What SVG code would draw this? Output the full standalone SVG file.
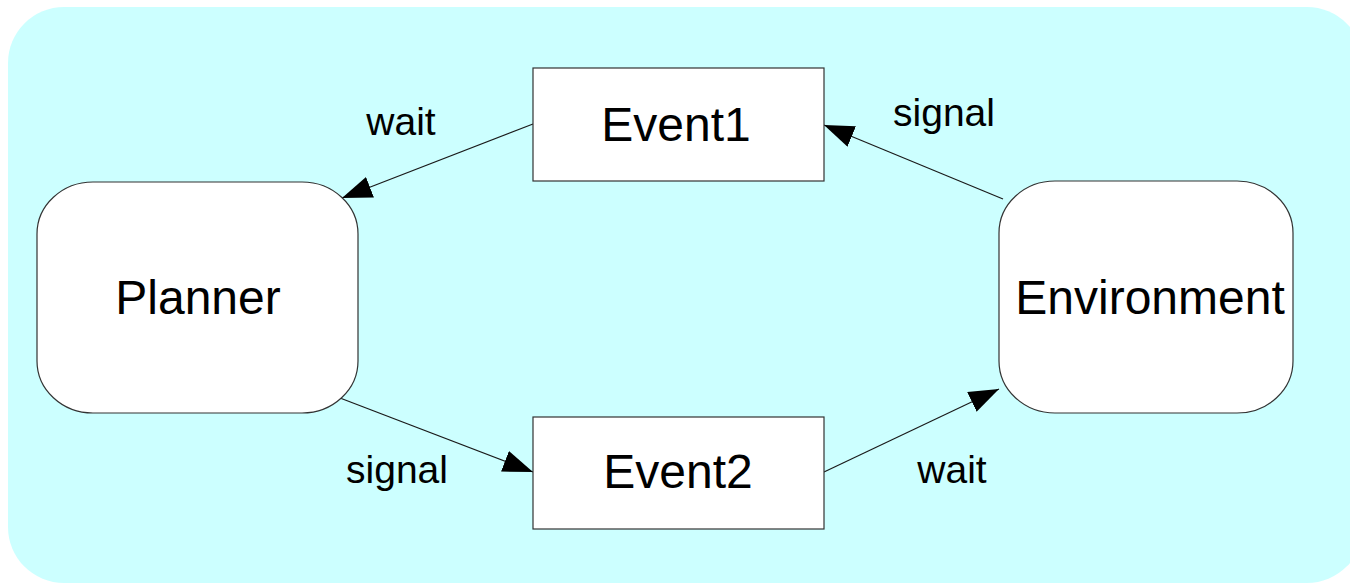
<svg xmlns="http://www.w3.org/2000/svg" width="1350" height="585" viewBox="0 0 1350 585">
<style>
.bg{fill:#ccffff;stroke:none}
.node{fill:#ffffff;stroke:#333333;stroke-width:1.2}
.ntext{font-family:"Liberation Sans",Arial,sans-serif;font-size:48px;fill:#000;text-anchor:middle}
.ltext{font-family:"Liberation Sans",Arial,sans-serif;font-size:39px;fill:#000;text-anchor:middle}
.edge{stroke:#1a1a1a;stroke-width:1.2;fill:none;marker-end:url(#arr)}
</style>
<defs>
<marker id="arr" markerUnits="userSpaceOnUse" markerWidth="32" markerHeight="24" refX="30" refY="11" orient="auto">
<path d="M0,0 L30,11 L0,22 Z" fill="#000"/>
</marker>
</defs>
<rect class="bg" x="8" y="7" width="1355" height="576" rx="56" ry="56"/>
<g id="connectors">
<line class="edge" x1="533" y1="124" x2="342" y2="198"/>
<line class="edge" x1="1003" y1="199" x2="824" y2="125"/>
<line class="edge" x1="340" y1="398" x2="533" y2="472"/>
<line class="edge" x1="824" y1="472" x2="999" y2="389"/>
<text class="ltext" x="401" y="135">wait</text>
<text class="ltext" x="944" y="126">signal</text>
<text class="ltext" x="397" y="483">signal</text>
<text class="ltext" x="952" y="483">wait</text>
</g>
<g id="planner">
<rect class="node" x="37" y="182" width="321" height="231" rx="56" ry="52"/>
<text class="ntext" x="198" y="314">Planner</text>
</g>
<g id="environment">
<rect class="node" x="999" y="181" width="294" height="232" rx="56" ry="52"/>
<text class="ntext" x="1150" y="314">Environment</text>
</g>
<g id="event1">
<rect class="node" x="533" y="68" width="291" height="113"/>
<text class="ntext" x="676" y="141">Event1</text>
</g>
<g id="event2">
<rect class="node" x="533" y="417" width="291" height="112"/>
<text class="ntext" x="678" y="488">Event2</text>
</g>
</svg>
